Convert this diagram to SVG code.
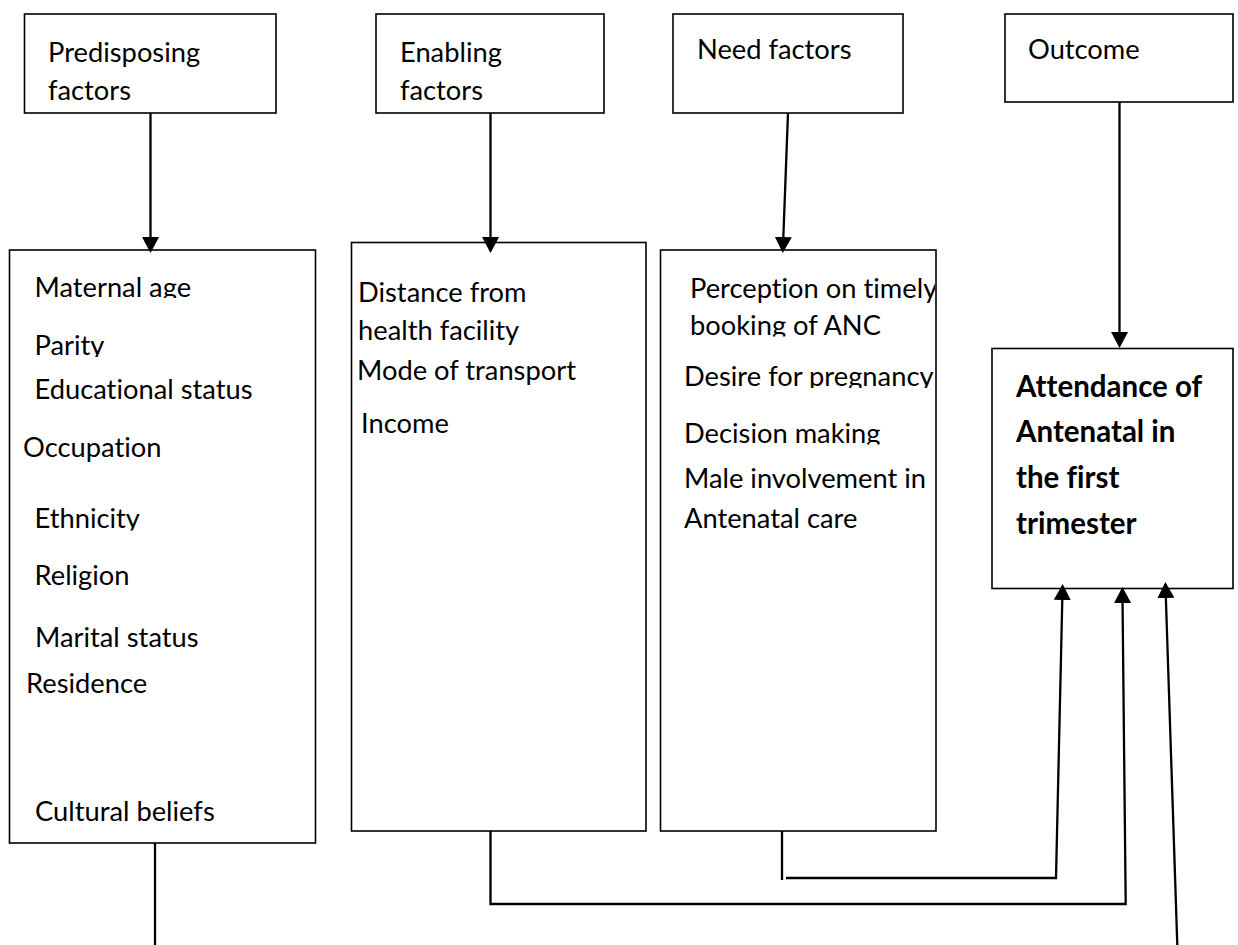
<svg xmlns="http://www.w3.org/2000/svg" width="1238" height="945" viewBox="0 0 1238 945">
<style>
.box{fill:#fff;stroke:#000;stroke-width:1.6}
.t{font-family:Lato,"Liberation Sans",sans-serif;font-size:27.3px;fill:#000;font-variant-ligatures:none;font-feature-settings:"liga" 0}
.b{font-weight:bold;font-size:29.5px}
.conn{fill:none;stroke:#000;stroke-width:2.3}
</style>
<defs>
<marker id="ah" viewBox="0 0 16 17" refX="14" refY="8.5" markerWidth="16" markerHeight="17" markerUnits="userSpaceOnUse" orient="auto"><path d="M0,0 L16,8.5 L0,17 z" fill="#000"/></marker>
<clipPath id="cMat"><rect x="0" y="250" width="320" height="48"/></clipPath>
<clipPath id="cPar"><rect x="0" y="300" width="320" height="57"/></clipPath>
<clipPath id="cEth"><rect x="0" y="480" width="320" height="50.5"/></clipPath>
<clipPath id="cPer"><rect x="660" y="250" width="275" height="60"/></clipPath>
<clipPath id="cBoo"><rect x="660" y="300" width="275" height="36.5"/></clipPath>
<clipPath id="cDes"><rect x="660" y="350" width="275" height="38"/></clipPath>
<clipPath id="cDec"><rect x="660" y="400" width="275" height="44.5"/></clipPath>
</defs>
<rect width="1238" height="945" fill="#fff"/>
<g id="n_predisposing_top">
<rect class="box" x="24.5" y="14" width="251.5" height="99"/>
<text class="t" x="48" y="62">Predisposing</text>
<text class="t" x="48" y="100">factors</text>
</g>
<g id="n_enabling_top">
<rect class="box" x="376" y="14" width="228" height="99"/>
<text class="t" x="400" y="62">Enabling</text>
<text class="t" x="400" y="100">factors</text>
</g>
<g id="n_need_top">
<rect class="box" x="673" y="14" width="230" height="99"/>
<text class="t" x="697" y="59">Need factors</text>
</g>
<g id="n_outcome_top">
<rect class="box" x="1005" y="14" width="228" height="88"/>
<text class="t" x="1028" y="59">Outcome</text>
</g>
<g id="n_predisposing">
<rect class="box" x="9.5" y="250" width="306" height="593"/>
<text class="t" x="34.5" y="297" clip-path="url(#cMat)">Maternal age</text>
<text class="t" x="34.5" y="355" clip-path="url(#cPar)">Parity</text>
<text class="t" x="34.5" y="399">Educational status</text>
<text class="t" x="23" y="457">Occupation</text>
<text class="t" x="34.5" y="528" clip-path="url(#cEth)">Ethnicity</text>
<text class="t" x="34.5" y="585">Religion</text>
<text class="t" x="35" y="647">Marital status</text>
<text class="t" x="26" y="693">Residence</text>
<text class="t" x="35" y="821">Cultural beliefs</text>
</g>
<g id="n_enabling">
<rect class="box" x="351.5" y="242.5" width="294.5" height="588.5"/>
<text class="t" x="358" y="302">Distance from</text>
<text class="t" x="358" y="340">health facility</text>
<text class="t" x="357" y="380">Mode of transport</text>
<text class="t" x="361" y="433">Income</text>
</g>
<g id="n_need">
<rect class="box" x="660.5" y="250" width="275.5" height="581"/>
<text class="t" x="690" y="298" clip-path="url(#cPer)">Perception on timely</text>
<text class="t" x="690" y="335" clip-path="url(#cBoo)">booking of ANC</text>
<text class="t" x="684" y="386" clip-path="url(#cDes)">Desire for pregnancy</text>
<text class="t" x="684" y="443" clip-path="url(#cDec)">Decision making</text>
<text class="t" x="684" y="488">Male involvement in</text>
<text class="t" x="684" y="528">Antenatal care</text>
</g>
<g id="n_attendance">
<rect class="box" x="992" y="348.5" width="241" height="240"/>
<text class="t b" x="1016" y="397">Attendance of</text>
<text class="t b" x="1016" y="442">Antenatal in</text>
<text class="t b" x="1016" y="488">the first</text>
<text class="t b" x="1016" y="534">trimester</text>
</g>
<g id="connectors">
<path class="conn" d="M150.5,113 L150.5,251" marker-end="url(#ah)"/>
<path class="conn" d="M490.5,113 L490.5,251" marker-end="url(#ah)"/>
<path class="conn" d="M788,113 L782.8,251" marker-end="url(#ah)"/>
<path class="conn" d="M1119.5,102 L1119.5,346" marker-end="url(#ah)"/>
<path class="conn" d="M155,843 L155,945"/>
<path class="conn" d="M490.5,831 V904 H1125.7 L1122.4,589" marker-end="url(#ah)"/>
<path class="conn" d="M782,831 V880"/>
<path class="conn" d="M786,878 H1056 L1062.6,586" marker-end="url(#ah)"/>
<path class="conn" d="M1177.3,945 L1165.4,584" marker-end="url(#ah)"/>
</g>
</svg>
